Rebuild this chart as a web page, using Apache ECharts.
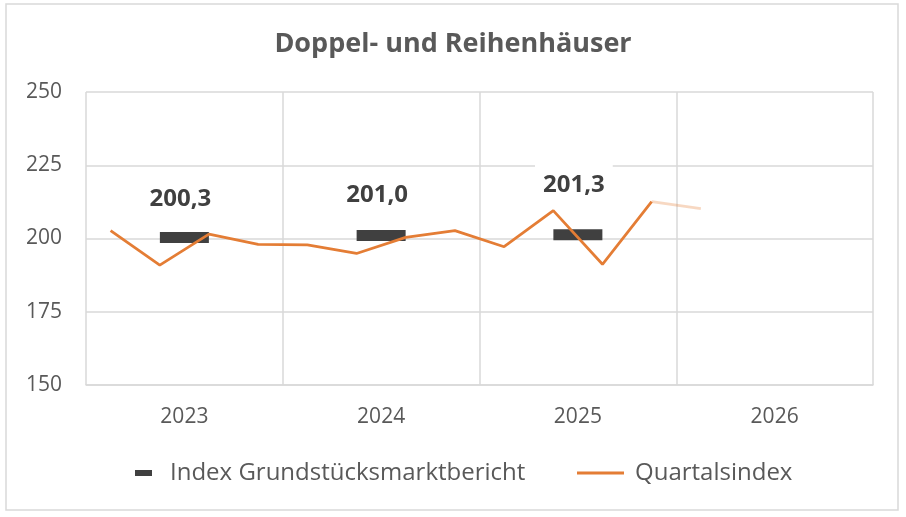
<!DOCTYPE html>
<html>
<head>
<meta charset="utf-8">
<script src="https://cdn.jsdelivr.net/npm/echarts@6/dist/echarts.min.js"></script>
<style>
  html, body { margin: 0; padding: 0; background: #fff; }
  #main { width: 906px; height: 517px; }
</style>
</head>
<body>
<div id="main"></div>
<script>
// years on the axis and the yearly report index
const years = ['2023', '2024', '2025', '2026'];
const reportIndex = [200.3, 201.0, 201.3, null];

// quarterly index, 2023 Q1 .. 2026 Q1 (last point is the faded projection)
const quarters = [
    '2023 Q1', '2023 Q2', '2023 Q3', '2023 Q4',
    '2024 Q1', '2024 Q2', '2024 Q3', '2024 Q4',
    '2025 Q1', '2025 Q2', '2025 Q3', '2025 Q4',
    '2026 Q1', '2026 Q2', '2026 Q3', '2026 Q4'
];
const quarterIndex = [202.7, 190.9, 201.5, 198.0, 197.8, 194.9, 200.4, 202.7,
                      197.2, 209.5, 191.2, 212.6, 210.2];

const yTicks = { min: 150, max: 250, step: 25 };

// layout only: how far each label sits above its marker
const labelLift = [38, 40, 50];

const FONT = 'Open Sans';
const GREY = '#595959';
const ORANGE = '#E47D35';

let chart = echarts.init(document.getElementById('main'));

// solid part stops at the last real quarter, faded part only the last segment
const nSolid = quarterIndex.length - 1;
let solid = quarters.map((q, i) => i < nSolid ? quarterIndex[i] : null);
let faded = quarters.map((q, i) => (i >= nSolid - 1 && i < quarterIndex.length) ? quarterIndex[i] : null);

let markerData = reportIndex.map((v, i) => {
    if (v == null) return null;
    let item = {
        value: v,
        label: { offset: [-4, -labelLift[i]] }
    };
    if (i === 2) {
        item.label.backgroundColor = '#fff';
        item.label.padding = [12, 8, 10, 8];
    }
    return item;
});

let opt = {
    animation: false,
    backgroundColor: '#fff',
    textStyle: { fontFamily: FONT },
    title: {
        text: 'Doppel- und Reihenhäuser',
        left: 'center',
        top: 26,
        textStyle: { fontFamily: FONT, fontSize: 27, fontWeight: 'bold', color: GREY }
    },
    graphic: [{
        type: 'rect',
        shape: { x: 6, y: 4, width: 892, height: 506 },
        style: { fill: 'none', stroke: '#d9d9d9', lineWidth: 1.5 },
        silent: true
    }],
    legend: [{
        data: ['Index Grundstücksmarktbericht'],
        left: 135,
        top: 461,
        padding: 0,
        icon: 'rect',
        itemWidth: 17,
        itemHeight: 6,
        textStyle: { fontFamily: FONT, fontSize: 24, color: GREY, padding: [0, 0, 0, 13] }
    }, {
        data: ['Quartalsindex'],
        left: 577,
        top: 461,
        padding: 0,
        icon: 'rect',
        itemWidth: 47,
        itemHeight: 3,
        textStyle: { fontFamily: FONT, fontSize: 24, color: GREY, padding: [0, 0, 0, 6] }
    }],
    grid: { left: 86, right: 33, top: 92, bottom: 132 },
    xAxis: [{
        type: 'category',
        data: years,
        boundaryGap: true,
        axisTick: { show: false },
        axisLine: { lineStyle: { color: '#d9d9d9', width: 1.5 } },
        axisLabel: { fontFamily: FONT, fontSize: 21, color: GREY, margin: 22 },
        splitLine: { show: true, interval: 0, lineStyle: { color: '#d9d9d9', width: 1.5 } }
    }, {
        type: 'category',
        data: quarters,
        boundaryGap: true,
        show: false
    }],
    yAxis: {
        type: 'value',
        min: yTicks.min,
        max: yTicks.max,
        interval: yTicks.step,
        axisLine: { show: false },
        axisTick: { show: false },
        axisLabel: { fontFamily: FONT, fontSize: 21, color: GREY, margin: 24 },
        splitLine: { lineStyle: { color: '#d9d9d9', width: 1.5 } }
    },
    series: [{
        name: 'Index Grundstücksmarktbericht',
        type: 'scatter',
        xAxisIndex: 0,
        symbol: 'rect',
        symbolSize: [49, 11],
        itemStyle: { color: '#404040', opacity: 1 },
        z: 2,
        label: {
            show: true,
            position: 'inside',
            formatter: p => p.value.toFixed(1).replace('.', ','),
            fontFamily: FONT,
            fontSize: 24,
            fontWeight: 'bold',
            color: '#404040'
        },
        data: markerData
    }, {
        name: 'Quartalsindex',
        type: 'line',
        xAxisIndex: 1,
        symbol: 'none',
        itemStyle: { color: ORANGE },
        lineStyle: { color: ORANGE, width: 2.75 },
        z: 3,
        data: solid
    }, {
        name: 'Quartalsindex (Prognose)',
        type: 'line',
        xAxisIndex: 1,
        symbol: 'none',
        lineStyle: { color: ORANGE, width: 2.75, opacity: 0.3 },
        z: 3,
        data: faded
    }]
};

chart.setOption(opt);
</script>
</body>
</html>
